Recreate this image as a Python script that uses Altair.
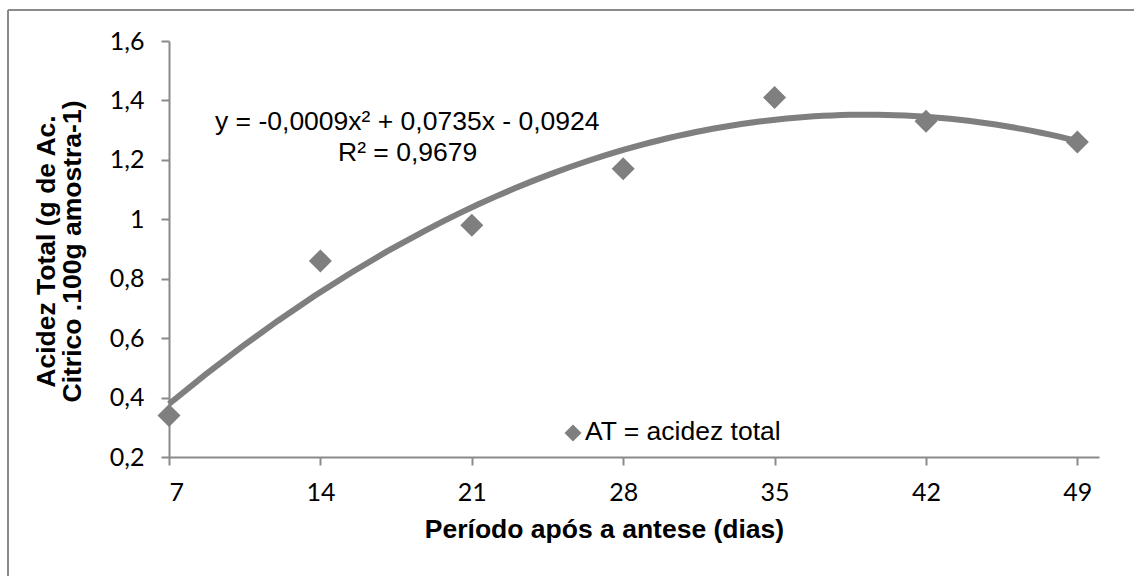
import altair as alt
import pandas as pd

# Observations: days after anthesis vs. total acidity
dias = [7, 14, 21, 28, 35, 42, 49]
acidez = [0.34, 0.86, 0.98, 1.17, 1.41, 1.33, 1.26]

x_ticks = [7, 14, 21, 28, 35, 42, 49]
y_ticks = [0.2, 0.4, 0.6, 0.8, 1.0, 1.2, 1.4, 1.6]

eq_line1 = "y = -0,0009x\u00b2 + 0,0735x - 0,0924"
eq_line2 = "R\u00b2 = 0,9679"
legend_label = "AT = acidez total"
x_title = "Período após a antese (dias)"
y_title = ["Acidez Total (g de Ac.", "Citrico .100g amostra-1)"]

GREY = "#7f7f7f"
AXIS_GREY = "#8a8a8a"
TXT = 26.5
W, H = 930, 416
PAD = {"left": 169, "top": 41, "right": 35, "bottom": 119}

df = pd.DataFrame({"dias": dias, "acidez": acidez})

x_enc = alt.X(
    "dias:Q",
    scale=alt.Scale(domain=[7, 50], nice=False, zero=False),
    axis=alt.Axis(
        values=x_ticks, title=x_title, grid=False,
        titleX=435, titleY=80, titleBaseline="alphabetic",
        titleFont="Liberation Sans", titleFontSize=TXT, titleFontWeight="bold",
        titleColor="black",
        labelFont="Lato", labelFontSize=25, labelColor="black",
        labelPadding=15, tickSize=8,
        domainColor=AXIS_GREY, tickColor=AXIS_GREY,
        domainWidth=2, tickWidth=2,
    ),
)
y_enc = alt.Y(
    "acidez:Q",
    scale=alt.Scale(domain=[0.2, 1.6], nice=False, zero=False),
    axis=alt.Axis(
        values=y_ticks, title=y_title, grid=False,
        labelExpr="replace(format(datum.value, '.1~f'), '.', ',')",
        titleX=-123, titleY=210, titleAngle=-90, titleBaseline="middle",
        titleAlign="center", titleLineHeight=26,
        titleFont="Liberation Sans", titleFontSize=TXT, titleFontWeight="bold",
        titleColor="black",
        labelFont="Lato", labelFontSize=25, labelColor="black",
        labelPadding=17, tickSize=8,
        domainColor=AXIS_GREY, tickColor=AXIS_GREY,
        domainWidth=2, tickWidth=2,
    ),
)

points = alt.Chart(df).mark_point(
    shape="diamond", filled=True, size=529, color=GREY, opacity=1
).encode(x=x_enc, y=y_enc)

# Second-order polynomial trend fitted to the observations
trend = alt.Chart(df).transform_regression(
    "dias", "acidez", method="poly", order=2, extent=[7, 49]
).mark_line(color=GREY, strokeWidth=6).encode(x="dias:Q", y="acidez:Q")

def label(text, x, y, size=TXT):
    return alt.Chart(pd.DataFrame({"t": [text]})).mark_text(
        align="left", baseline="alphabetic", font="Liberation Sans",
        fontSize=size, color="black"
    ).encode(text="t:N", x=alt.value(x), y=alt.value(y))

eq1 = label(eq_line1, 46, 89)
eq2 = label(eq_line2, 169, 120)

legend_mark = alt.Chart(pd.DataFrame({"t": [legend_label]})).mark_point(
    shape="diamond", filled=True, size=289, color=GREY, opacity=1
).encode(x=alt.value(404), y=alt.value(392))
legend_text = label(legend_label, 416, 399)

# Outer chart frame (top and left edges)
frame_top = alt.Chart(pd.DataFrame({"t": [0]})).mark_rule(
    color=AXIS_GREY, strokeWidth=2
).encode(x=alt.value(-161), x2=alt.value(1200), y=alt.value(-31))
frame_left = alt.Chart(pd.DataFrame({"t": [0]})).mark_rule(
    color=AXIS_GREY, strokeWidth=2
).encode(x=alt.value(-161), y=alt.value(-31), y2=alt.value(600))

chart = alt.layer(
    frame_top, frame_left, points, trend, eq1, eq2, legend_mark, legend_text
).properties(
    width=W, height=H, padding=PAD,
    autosize=alt.AutoSizeParams(type="none"),
    background="white",
).configure_view(stroke="transparent")

chart.save("out.html", embed_options={"renderer": "svg", "actions": False})
